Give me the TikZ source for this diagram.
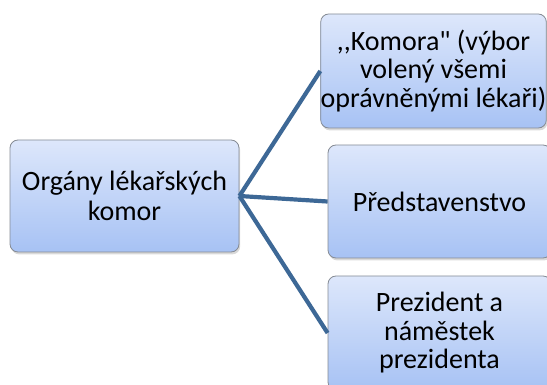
\documentclass[tikz,border=0pt]{standalone}
\usepackage{fontspec}
\newfontfamily\boxfont{Carlito}
\usetikzlibrary{shadows,positioning}
\definecolor{boxtop}{HTML}{DDE7FB}
\definecolor{boxbottom}{HTML}{A7C2F4}
\definecolor{boxedge}{HTML}{858B94}
\definecolor{linkblue}{HTML}{3D6896}

\begin{document}
\begin{tikzpicture}[x=1pt,y=-1pt,
    every node/.style={rectangle, rounded corners=8pt, draw=boxedge, line width=0.8pt,
      top color=boxtop, bottom color=boxbottom, align=center, inner sep=0pt,
      font=\boxfont\fontsize{28}{28.5}\selectfont,
      drop shadow={shadow xshift=1.2pt, shadow yshift=-2.4pt, opacity=0.3}},
    link/.style={draw=linkblue, line width=4.2pt}]
                \useasboundingbox (0,0) rectangle (547,385);
                \node[minimum width=229pt, minimum height=112pt] (organy) at (124.5,196) {Orgány lékařských\\[2pt]komor};
                \node[minimum width=223pt, minimum height=114pt] (komora) at (433.5,71) {,,Komora" (výbor\\volený všemi\\oprávněnými lékaři)};
                \node[minimum width=223pt, minimum height=113pt] (predstav) at (439.5,201.5) {Představenstvo};
                \node[minimum width=223pt, minimum height=114pt] (prezident) at (439.5,333) {Prezident a\\náměstek\\prezidenta};
                \draw[link] (organy.east) -- (komora.west);
                \draw[link] (organy.east) -- (predstav.west);
                \draw[link] (organy.east) -- (prezident.west);
            \end{tikzpicture}
\end{document}
